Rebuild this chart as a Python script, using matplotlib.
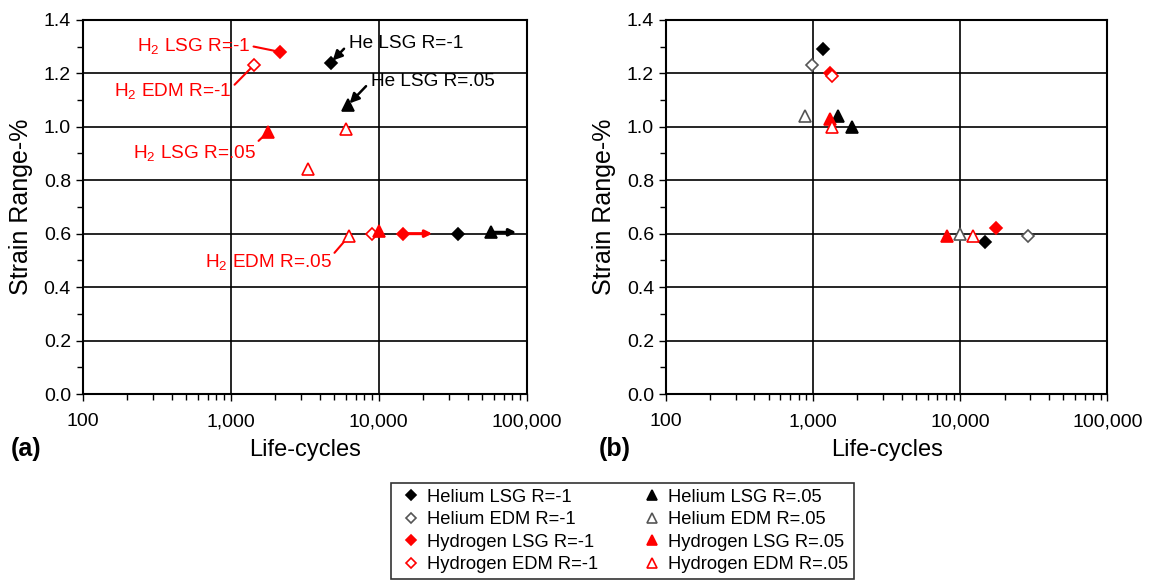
import matplotlib
matplotlib.use("Agg")
import matplotlib.pyplot as plt
from matplotlib.lines import Line2D
from matplotlib.ticker import FixedLocator, FixedFormatter, MultipleLocator, LogLocator, NullFormatter

plt.rcParams['font.family'] = ['Liberation Sans', 'DejaVu Sans']
plt.rcParams['mathtext.fontset'] = 'custom'
plt.rcParams['mathtext.rm'] = 'Liberation Sans'

# x ticks (life-cycles)
x_ticks = [100, 1000, 10000, 100000]
x_tick_labels = ['100', '1,000', '10,000', '100,000']
y_ticks = [0.0, 0.2, 0.4, 0.6, 0.8, 1.0, 1.2, 1.4]

# panel (a) data
a_he_lsg_m1_x = [4740, 34200]
a_he_lsg_m1_y = [1.24, 0.60]
a_he_lsg_05_x = [6170, 57100]
a_he_lsg_05_y = [1.08, 0.605]
a_h2_lsg_m1_x = [2140, 14500]
a_h2_lsg_m1_y = [1.28, 0.60]
a_h2_edm_m1_x = [1430, 8980]
a_h2_edm_m1_y = [1.23, 0.60]
a_h2_lsg_05_x = [1780, 10000]
a_h2_lsg_05_y = [0.98, 0.61]
a_h2_edm_05_x = [3310, 6000, 6270]
a_h2_edm_05_y = [0.84, 0.99, 0.59]

# run-outs in panel (a): start cycles, end cycles, strain
runout_red = (14500, 23000, 0.60)
runout_black = (57100, 85000, 0.605)

# panel (b) data
b_he_lsg_m1_x = [1165, 14700]
b_he_lsg_m1_y = [1.29, 0.57]
b_he_edm_m1_x = [980, 28700]
b_he_edm_m1_y = [1.23, 0.59]
b_h2_lsg_m1_x = [1300, 17400]
b_h2_lsg_m1_y = [1.20, 0.62]
b_h2_edm_m1_x = [1340]
b_h2_edm_m1_y = [1.19]
b_he_lsg_05_x = [1470, 1830]
b_he_lsg_05_y = [1.04, 1.00]
b_he_edm_05_x = [880, 9900]
b_he_edm_05_y = [1.04, 0.60]
b_h2_lsg_05_x = [1300, 8090]
b_h2_lsg_05_y = [1.03, 0.59]
b_h2_edm_05_x = [1350, 12300]
b_h2_edm_05_y = [1.00, 0.59]

RED = '#ff0000'
GREY = '#555555'

styles = {
    'he_lsg_m1': dict(marker='D', ms=6, color='black', mfc='black', label='Helium LSG R=-1'),
    'he_edm_m1': dict(marker='D', ms=6, color=GREY, mfc='white', label='Helium EDM R=-1'),
    'h2_lsg_m1': dict(marker='D', ms=6, color=RED, mfc=RED, label='Hydrogen LSG R=-1'),
    'h2_edm_m1': dict(marker='D', ms=6, color=RED, mfc='white', label='Hydrogen EDM R=-1'),
    'he_lsg_05': dict(marker='^', ms=8, color='black', mfc='black', label='Helium LSG R=.05'),
    'he_edm_05': dict(marker='^', ms=8, color=GREY, mfc='white', label='Helium EDM R=.05'),
    'h2_lsg_05': dict(marker='^', ms=8, color=RED, mfc=RED, label='Hydrogen LSG R=.05'),
    'h2_edm_05': dict(marker='^', ms=8, color=RED, mfc='white', label='Hydrogen EDM R=.05'),
}


def plot_series(ax, key, x, y):
    st = styles[key]
    ax.plot(x, y, linestyle='none', mec=st['color'], mew=1.2,
            marker=st['marker'], ms=st['ms'], mfc=st['mfc'], zorder=5)


def setup_axes(ax):
    ax.set_xscale('log')
    ax.set_xlim(100, 100000)
    ax.set_ylim(0, 1.4)
    ax.xaxis.set_major_locator(FixedLocator(x_ticks))
    ax.xaxis.set_major_formatter(FixedFormatter(x_tick_labels))
    ax.xaxis.set_minor_locator(LogLocator(base=10, subs=range(2, 10)))
    ax.xaxis.set_minor_formatter(NullFormatter())
    ax.yaxis.set_major_locator(FixedLocator(y_ticks))
    ax.yaxis.set_minor_locator(MultipleLocator(0.1))
    ax.yaxis.set_major_formatter(plt.FuncFormatter(lambda v, p: f'{v:.1f}'))
    ax.grid(True, which='major', color='black', lw=1.2)
    ax.tick_params(axis='both', which='major', direction='out', length=5,
                   width=1, labelsize=14, colors='black')
    ax.tick_params(axis='x', which='major', pad=9)
    ax.tick_params(axis='both', which='minor', direction='out', length=4, width=1)
    for s in ax.spines.values():
        s.set_linewidth(1.5)
    ax.set_xlabel('Life-cycles', fontsize=17, labelpad=6)
    ax.set_ylabel('Strain Range-%', fontsize=18, labelpad=8)


fig = plt.figure(figsize=(11.5, 5.82), dpi=100)
ax_a = fig.add_axes([0.072, 0.323, 0.386, 0.643])
ax_b = fig.add_axes([0.579, 0.323, 0.384, 0.643])

# ---- panel (a)
setup_axes(ax_a)
for key, x, y in [('he_lsg_m1', a_he_lsg_m1_x, a_he_lsg_m1_y),
                  ('he_lsg_05', a_he_lsg_05_x, a_he_lsg_05_y),
                  ('h2_lsg_m1', a_h2_lsg_m1_x, a_h2_lsg_m1_y),
                  ('h2_edm_m1', a_h2_edm_m1_x, a_h2_edm_m1_y),
                  ('h2_lsg_05', a_h2_lsg_05_x, a_h2_lsg_05_y),
                  ('h2_edm_05', a_h2_edm_05_x, a_h2_edm_05_y)]:
    plot_series(ax_a, key, x, y)

# run-out arrows
for (x0, x1, yv), col in [(runout_red, RED), (runout_black, 'black')]:
    ax_a.annotate('', xy=(x1, yv), xytext=(x0, yv),
                  arrowprops=dict(arrowstyle='-|>', color=col, lw=2.2,
                                  mutation_scale=10, shrinkA=0, shrinkB=0),
                  zorder=4)

# callout labels
def red_line(rp):
    return dict(arrowstyle='-', color=RED, lw=1.5, shrinkA=0, shrinkB=3, relpos=rp)


def black_arrow(rp):
    return dict(arrowstyle='-|>', color='black', lw=1.8, mutation_scale=14,
                shrinkA=2, shrinkB=2, relpos=rp)


fs_ann = 13.7
ax_a.annotate(r'H$_\mathregular{2}$ LSG R=-1', xy=(a_h2_lsg_m1_x[0], a_h2_lsg_m1_y[0]),
              xytext=(1365, 1.30), ha='right', va='center', color=RED, fontsize=fs_ann,
              arrowprops=red_line((0.98, 0.55)))
ax_a.annotate(r'H$_\mathregular{2}$ EDM R=-1', xy=(a_h2_edm_m1_x[0], a_h2_edm_m1_y[0]),
              xytext=(1016, 1.13), ha='right', va='center', color=RED, fontsize=fs_ann,
              arrowprops=red_line((0.98, 0.6)))
ax_a.annotate(r'H$_\mathregular{2}$ LSG R=.05', xy=(a_h2_lsg_05_x[0], a_h2_lsg_05_y[0]),
              xytext=(1476, 0.90), ha='right', va='center', color=RED, fontsize=fs_ann,
              arrowprops=red_line((0.95, 0.7)))
ax_a.annotate(r'H$_\mathregular{2}$ EDM R=.05', xy=(a_h2_edm_05_x[2], a_h2_edm_05_y[2]),
              xytext=(4810, 0.49), ha='right', va='center', color=RED, fontsize=fs_ann,
              arrowprops=red_line((0.98, 0.7)))
ax_a.annotate('He LSG R=-1', xy=(a_he_lsg_m1_x[0], a_he_lsg_m1_y[0]),
              xytext=(6270, 1.31), ha='left', va='center', color='black', fontsize=fs_ann,
              arrowprops=black_arrow((0.0, 0.5)))
ax_a.annotate('He LSG R=.05', xy=(a_he_lsg_05_x[0], a_he_lsg_05_y[0]),
              xytext=(8830, 1.17), ha='left', va='center', color='black', fontsize=fs_ann,
              arrowprops=black_arrow((0.0, 0.5)))

# ---- panel (b)
setup_axes(ax_b)
for key, x, y in [('he_lsg_m1', b_he_lsg_m1_x, b_he_lsg_m1_y),
                  ('he_edm_m1', b_he_edm_m1_x, b_he_edm_m1_y),
                  ('h2_lsg_m1', b_h2_lsg_m1_x, b_h2_lsg_m1_y),
                  ('h2_edm_m1', b_h2_edm_m1_x, b_h2_edm_m1_y),
                  ('he_lsg_05', b_he_lsg_05_x, b_he_lsg_05_y),
                  ('he_edm_05', b_he_edm_05_x, b_he_edm_05_y),
                  ('h2_lsg_05', b_h2_lsg_05_x, b_h2_lsg_05_y),
                  ('h2_edm_05', b_h2_edm_05_x, b_h2_edm_05_y)]:
    plot_series(ax_b, key, x, y)

fig.text(0.009, 0.229, '(a)', fontsize=18, fontweight='bold', va='center')
fig.text(0.521, 0.229, '(b)', fontsize=18, fontweight='bold', va='center')

# legend
handles = []
for key in ['he_lsg_m1', 'he_edm_m1', 'h2_lsg_m1', 'h2_edm_m1',
            'he_lsg_05', 'he_edm_05', 'h2_lsg_05', 'h2_edm_05']:
    st = styles[key]
    handles.append(Line2D([], [], linestyle='none', marker=st['marker'],
                          ms=st['ms'] - 1, mfc=st['mfc'], mec=st['color'], mew=1.2,
                          label=st['label']))
leg = fig.legend(handles=handles, ncol=2, loc='upper center',
                 bbox_to_anchor=(0.5413, 0.170), fontsize=13.2, frameon=True,
                 fancybox=False, edgecolor='black', handlelength=1.58,
                 handletextpad=0.08, columnspacing=2.16, labelspacing=0.3,
                 borderpad=0.3, borderaxespad=0)
leg.get_frame().set_linewidth(1.2)

fig.savefig('out.png', dpi=100)
